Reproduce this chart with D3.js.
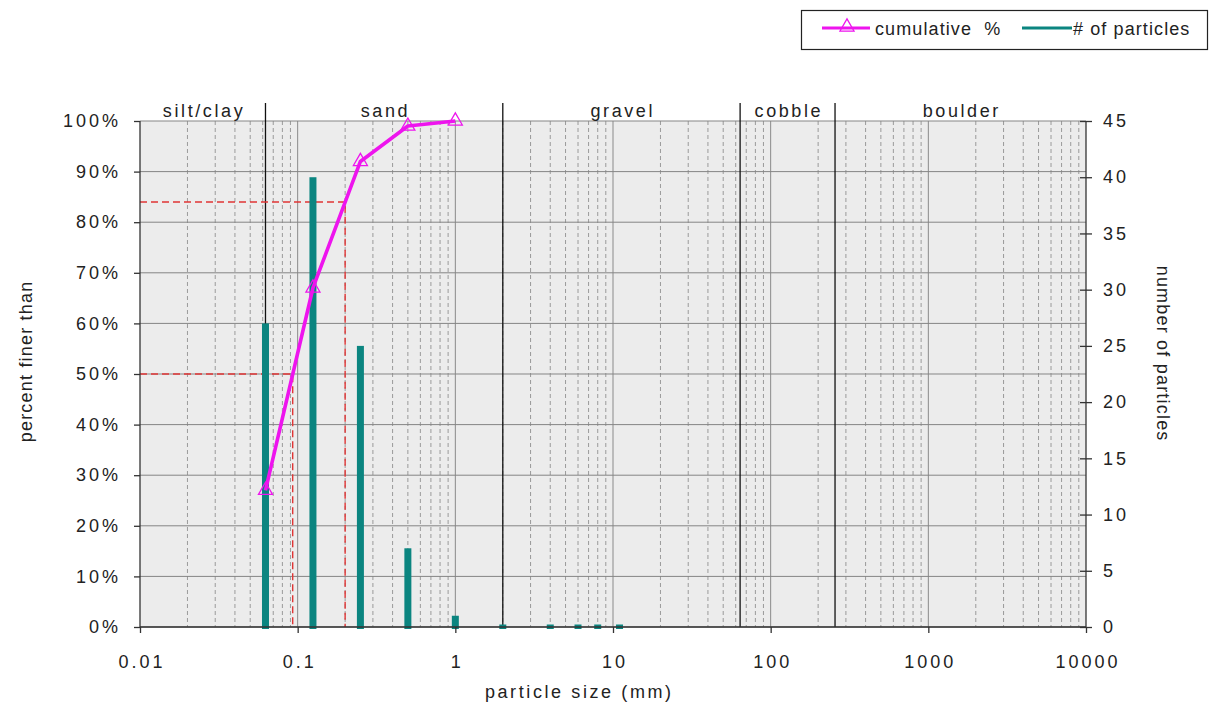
<!DOCTYPE html>
<html>
<head>
<meta charset="utf-8">
<script src="https://cdn.jsdelivr.net/npm/d3@7"></script>
<style>
html,body{margin:0;padding:0;background:#fff;}
svg{display:block;font-family:"Liberation Sans",Arial,sans-serif;}
</style>
</head>
<body>
<svg id="chart" width="1215" height="709"></svg>
<script>
// ---- data ----
const sizes = [0.0625, 0.125, 0.25, 0.5, 1, 2, 4, 6, 8, 11];            // particle size (mm)
const counts = [27, 40, 25, 7, 1, 0, 0, 0, 0, 0];                        // # of particles
const cumSizes = [0.0625, 0.125, 0.25, 0.5, 1];
const cumPct = [27, 67, 92, 99, 100];                                    // cumulative %
const leftTicks = [0, 10, 20, 30, 40, 50, 60, 70, 80, 90, 100];
const rightTicks = [0, 5, 10, 15, 20, 25, 30, 35, 40, 45];
const xTicks = [0.01, 0.1, 1, 10, 100, 1000, 10000];
const classNames = ["silt/clay", "sand", "gravel", "cobble", "boulder"];
const classBounds = [0.01, 0.0625, 2, 64, 256, 10000];
const d50 = 0.093, d84 = 0.2;

// ---- layout ----
const L = 140, R = 1086, T = 121, B = 627;
const FS = 18, LS_TICK = 3, LS_TITLE = 2.6, LS_VTITLE = 1.2, LS_LEG = 1.1;
const txt = "#222";
const svg = d3.select("#chart");
const x = d3.scaleLog().domain([0.01, 10000]).range([L, R]);
const yL = d3.scaleLinear().domain([0, 100]).range([B, T]);
const yR = d3.scaleLinear().domain([0, 45]).range([B, T]);
const magenta = "#ee14ee", teal = "#0b8580", red = "#e03535";

// background
svg.append("rect").attr("x", L).attr("y", T).attr("width", R - L).attr("height", B - T).attr("fill", "#ececec");

// minor dashed verticals
const minors = [];
for (let e = -2; e < 4; e++) for (let m = 2; m <= 9; m++) minors.push(m * Math.pow(10, e));
svg.append("g").selectAll("line").data(minors).join("line")
  .attr("x1", d => x(d)).attr("x2", d => x(d)).attr("y1", T).attr("y2", B)
  .attr("stroke", "#9a9a9a").attr("stroke-width", 1).attr("stroke-dasharray", "4,3");

// major verticals
svg.append("g").selectAll("line").data(xTicks.slice(1, -1)).join("line")
  .attr("x1", d => x(d)).attr("x2", d => x(d)).attr("y1", T).attr("y2", B)
  .attr("stroke", "#8a8a8a").attr("stroke-width", 1);

// horizontal grid
svg.append("g").selectAll("line").data(leftTicks).join("line")
  .attr("x1", L).attr("x2", R).attr("y1", d => yL(d)).attr("y2", d => yL(d))
  .attr("stroke", "#858585").attr("stroke-width", 1);

// class boundaries
svg.append("g").selectAll("line").data(classBounds.slice(1, -1)).join("line")
  .attr("x1", d => x(d)).attr("x2", d => x(d)).attr("y1", 103).attr("y2", B)
  .attr("stroke", "#111").attr("stroke-width", 1.3);

// class labels
svg.append("g").selectAll("text").data(classNames).join("text")
  .attr("x", (d, i) => (x(classBounds[i]) + x(classBounds[i + 1])) / 2 + LS_TITLE / 2)
  .attr("y", 117).attr("text-anchor", "middle").attr("font-size", FS).attr("fill", txt)
  .attr("letter-spacing", LS_TITLE)
  .text(d => d);

// D50 / D84 dashed
[[d50, 50], [d84, 84]].forEach(([s, p]) => {
  svg.append("path")
    .attr("d", `M${L},${yL(p)}H${x(s)}V${B}`)
    .attr("fill", "none").attr("stroke", red).attr("stroke-width", 1.4).attr("stroke-dasharray", "7,4");
});

// bars
svg.append("g").selectAll("rect").data(sizes.map((s, i) => ({ s, c: counts[i] }))).join("rect")
  .attr("x", d => x(d.s) - 3.5).attr("width", 7)
  .attr("y", d => Math.min(yR(d.c), B - 2.5))
  .attr("height", d => Math.max(B - yR(d.c), 2.5) + 2)
  .attr("fill", teal);

// axes
const axL = svg.append("g").attr("transform", `translate(${L},0)`)
  .call(d3.axisLeft(yL).tickValues(leftTicks).tickFormat(d => d + "%").tickSize(6).tickPadding(15));
const axR = svg.append("g").attr("transform", `translate(${R},0)`)
  .call(d3.axisRight(yR).tickValues(rightTicks).tickSize(6).tickPadding(11));
const axB = svg.append("g").attr("transform", `translate(0,${B})`)
  .call(d3.axisBottom(x).tickValues(xTicks).tickFormat(d => String(d)).tickSize(6).tickPadding(22));
[axL, axR, axB].forEach(a => {
  a.select(".domain").attr("stroke", "#333").attr("stroke-width", 1.3);
  a.selectAll(".tick line").attr("stroke", "#333").attr("stroke-width", 1.3);
  a.selectAll(".tick text").attr("font-size", FS).attr("fill", txt)
    .attr("letter-spacing", LS_TICK)
    .attr("font-family", "\"Liberation Sans\",Arial,sans-serif");
});
axB.selectAll(".tick text").attr("dx", LS_TICK / 2);
axL.selectAll(".tick text").attr("dx", LS_TICK - 1);
// right ticks cross the axis
axR.selectAll(".tick line").attr("x1", -6);
axR.select(".domain").attr("d", `M0,${T}V${B}`);
axL.select(".domain").attr("d", `M0,${T}V${B}`);
axB.select(".domain").attr("d", `M${L},0H${R}`);

// cumulative line
const cum = cumSizes.map((s, i) => ({ s, p: cumPct[i] }));
svg.append("path").datum(cum)
  .attr("d", d3.line().x(d => x(d.s)).y(d => yL(d.p)))
  .attr("fill", "none").attr("stroke", magenta).attr("stroke-width", 3.6).attr("stroke-linejoin", "round");
const tri = d3.symbol().type(d3.symbolTriangle).size(85);
svg.append("g").selectAll("path").data(cum).join("path")
  .attr("transform", d => `translate(${x(d.s)},${yL(d.p)})`)
  .attr("d", tri).attr("fill", "none").attr("stroke", magenta).attr("stroke-width", 1.3);

// axis titles
svg.append("text").attr("transform", `translate(32,362) rotate(-90)`).attr("text-anchor", "middle")
  .attr("dx", LS_VTITLE / 2)
  .attr("font-size", FS).attr("fill", txt).attr("letter-spacing", LS_VTITLE).text("percent finer than");
svg.append("text").attr("transform", `translate(1157,353) rotate(90)`).attr("text-anchor", "middle")
  .attr("dx", LS_VTITLE / 2)
  .attr("font-size", FS).attr("fill", txt).attr("letter-spacing", LS_VTITLE).text("number of particles");
svg.append("text").attr("x", 578 + LS_TITLE / 2).attr("y", 698).attr("text-anchor", "middle")
  .attr("font-size", FS).attr("fill", txt).attr("letter-spacing", LS_TITLE).text("particle size (mm)");

// legend
const lg = svg.append("g");
lg.append("rect").attr("x", 801.5).attr("y", 10.5).attr("width", 406).attr("height", 39)
  .attr("fill", "#fff").attr("stroke", "#222").attr("stroke-width", 1.2);
lg.append("line").attr("x1", 822).attr("x2", 870).attr("y1", 28).attr("y2", 28)
  .attr("stroke", magenta).attr("stroke-width", 3);
lg.append("path").attr("transform", "translate(847,27)").attr("d", tri)
  .attr("fill", "none").attr("stroke", magenta).attr("stroke-width", 1.3);
lg.append("text").attr("x", 875).attr("y", 35).attr("font-size", FS).attr("fill", txt)
  .attr("letter-spacing", LS_LEG).style("white-space", "pre").text("cumulative  %");
lg.append("line").attr("x1", 1022).attr("x2", 1072).attr("y1", 28).attr("y2", 28)
  .attr("stroke", teal).attr("stroke-width", 3);
lg.append("text").attr("x", 1073).attr("y", 35).attr("font-size", FS).attr("fill", txt)
  .attr("letter-spacing", LS_LEG).text("# of particles");
</script>
</body>
</html>
